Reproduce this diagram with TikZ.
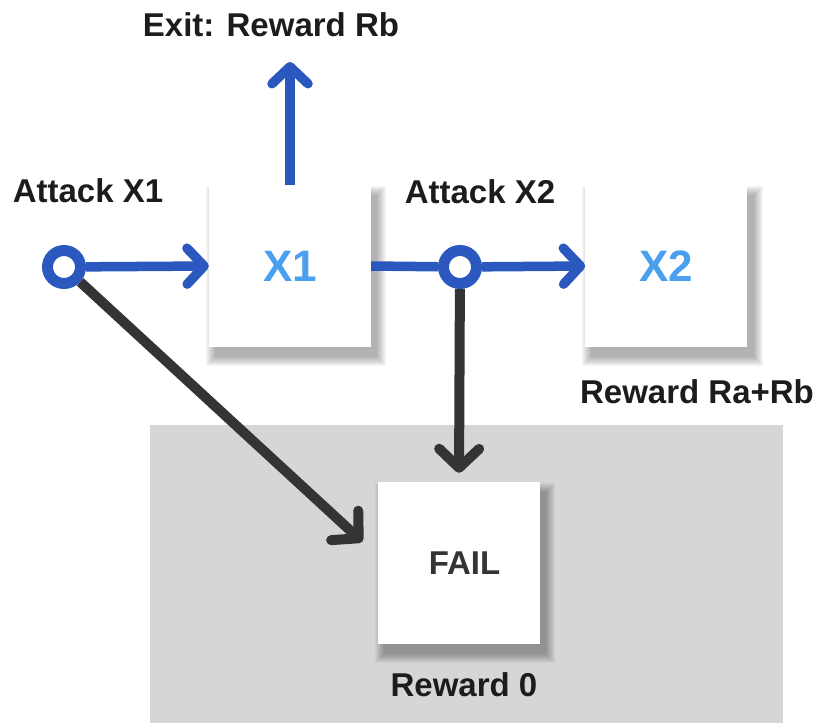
\documentclass[tikz,border=0pt]{standalone}
\usepackage{fontspec}
\setmainfont{Liberation Sans}
\usetikzlibrary{positioning,arrows.meta,backgrounds}

\definecolor{arrowblue}{RGB}{42,88,190}
\definecolor{labelblue}{RGB}{74,160,238}
\definecolor{darkarrow}{RGB}{52,52,52}
\definecolor{failgray}{RGB}{214,214,214}
\definecolor{textdark}{RGB}{28,28,28}

\tikzset{
  statebox/.style={fill=white, minimum size=162pt, inner sep=0pt,
    font=\fontsize{44}{48}\selectfont\bfseries, text=labelblue},
  attack/.style={circle, draw=arrowblue, line width=11pt, fill=white, minimum size=33pt, inner sep=0pt},
  caption/.style={font=\fontsize{33}{38}\selectfont\bfseries, text=textdark, inner sep=0pt},
  blueline/.style={draw=arrowblue, line width=9.5pt},
  bluearr/.style={blueline, -{Straight Barb[length=17pt,width=36pt,round]}},
  darkarr/.style={draw=darkarrow, line width=10pt, -{Straight Barb[length=19pt,width=40pt,round]}},
  softshadow/.style={fill=black, opacity=0.035},
}

\begin{document}
\begin{tikzpicture}[x=1pt, y=-1pt]
\useasboundingbox (0,0) rectangle (823,723);

% states
\node[statebox] (X1) at (290,266) {X1};
\node[statebox, right=214pt of X1] (X2) {X2};
\node[statebox, minimum height=162pt, text=darkarrow, font=\fontsize{33}{38}\selectfont\bfseries] (F) at (459,563) {\hspace*{11pt}FAIL};

% attack points
\node[attack] (A1) at (64,267) {};
\node[attack] (A2) at (460,267) {};

% labels
\node[caption] (lA1) at (88,191) {Attack X1};
\node[caption] (lA2) at (480,192) {Attack X2};
\node[caption] (lexit) at (271,25) {Exit: Reward Rb};
\node[caption] (lX2) at (697,392) {Reward Ra+Rb};
\node[caption] (lF) at (464,685) {Reward 0};
\coordinate (exit) at (290,62);

% failure region and box shadows
\begin{scope}[on background layer]
\fill[failgray] (150,425) rectangle (783,723);
\foreach \b in {X1,X2,F}
  \foreach \i in {0,...,9}
    \fill[softshadow] ([shift={(6-\i,10-\i)}]\b.north west) rectangle ([shift={(6+\i,10+\i)}]\b.south east);
\end{scope}

% transitions
\draw[bluearr] (A1) -- (X1.west);
\draw[blueline] (X1.east) -- (A2);
\draw[bluearr] (A2) -- (X2.west);
\draw[bluearr] (X1.north) -- (exit);
\draw[darkarr, shorten >=21pt] (A1) -- (F.175);
\draw[darkarr, shorten >=9pt] (A2) -- (F.north);
\end{tikzpicture}
\end{document}
